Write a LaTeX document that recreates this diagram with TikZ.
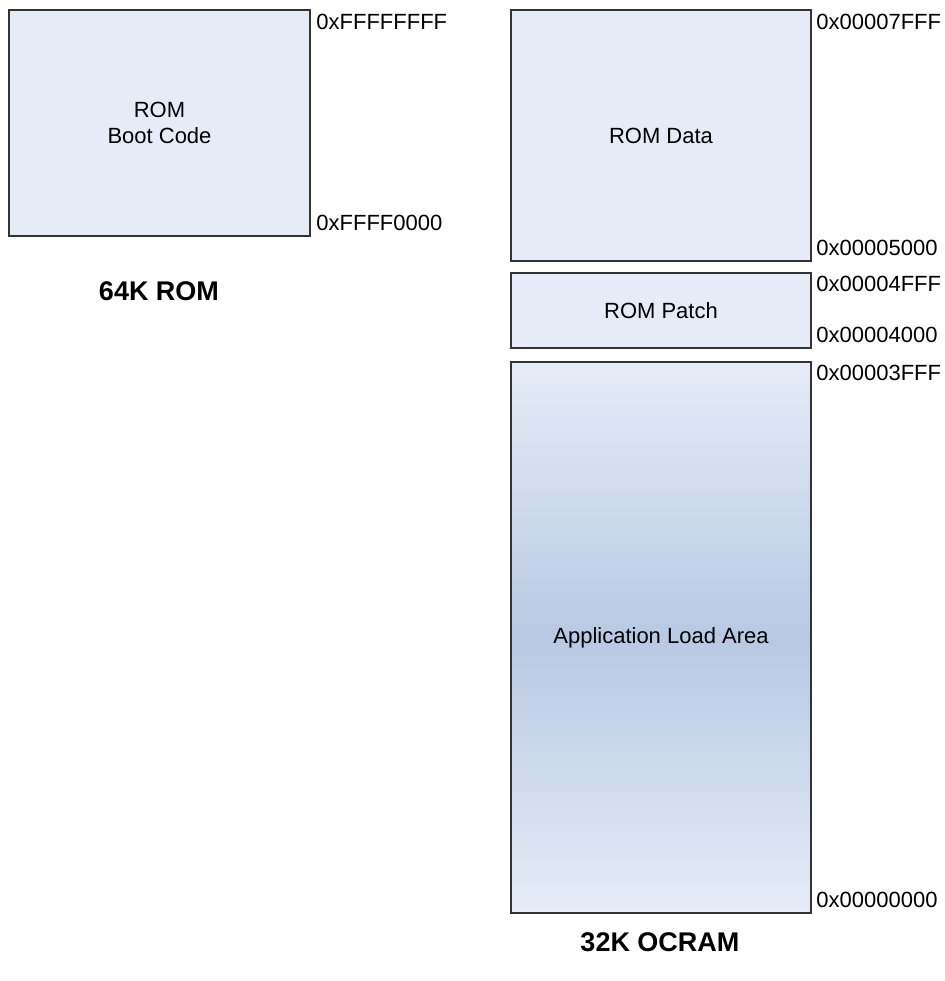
\documentclass[tikz,border=0pt]{standalone}
\usepackage{fontspec}
\setmainfont{Liberation Sans}
\begin{document}
\begin{tikzpicture}[x=0.5pt,y=-0.5pt,
  mem/.style={draw=black!80, line width=0.6pt, fill=boxfill, inner sep=0pt, minimum width=150pt, font=\fontsize{11}{13}\selectfont, align=center},
  addr/.style={anchor=west, inner sep=0pt, font=\fontsize{11}{13}\selectfont},
  title/.style={inner sep=0pt, font=\fontsize{13.5}{16}\selectfont\bfseries}]
\definecolor{boxfill}{HTML}{E6ECF7}
\definecolor{midfill}{HTML}{B7C9E3}
\useasboundingbox (0,0) rectangle (945,981);
% ROM
\node[mem, minimum width=150.5pt, minimum height=113pt] (rom) at (159.5,123) {ROM\\Boot Code};
\node[addr] (romtop) at (316,22) {0xFFFFFFFF};
\node[addr] (rombot) at (316,223) {0xFFFF0000};
\node[title] (romtitle) at (159,291) {64K ROM};
% OCRAM
\node[mem, minimum height=125.5pt] (data) at (661,135.5) {ROM Data};
\node[mem, minimum height=37.5pt] (patch) at (661,310.5) {ROM Patch};
\node[mem, minimum height=275.5pt, top color=boxfill, bottom color=boxfill, middle color=midfill] (app) at (661,637.5) {Application Load Area};
\node[addr] (a7fff) at (816,22) {0x00007FFF};
\node[addr] (a5000) at (816,248) {0x00005000};
\node[addr] (a4fff) at (816,284) {0x00004FFF};
\node[addr] (a4000) at (816,335) {0x00004000};
\node[addr] (a3fff) at (816,373) {0x00003FFF};
\node[addr] (a0000) at (816,900) {0x00000000};
\node[title] (ocramtitle) at (660,942) {32K OCRAM};
\end{tikzpicture}
\end{document}
